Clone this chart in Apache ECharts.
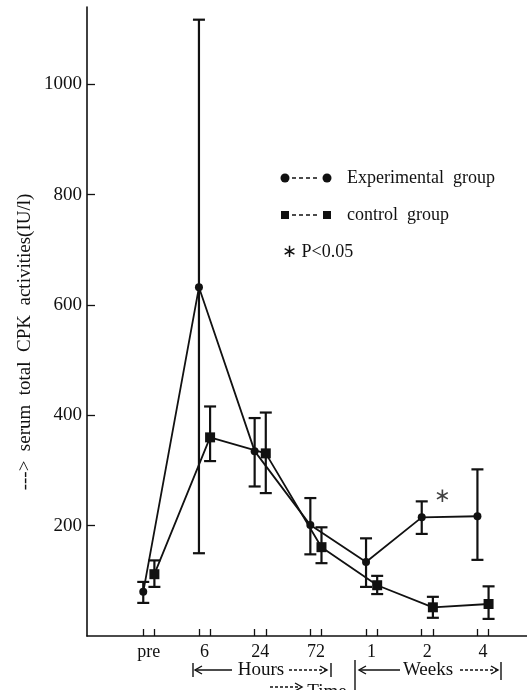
<!DOCTYPE html>
<html>
<head>
<meta charset="utf-8">
<script src="https://cdn.jsdelivr.net/npm/echarts@6/dist/echarts.min.js"></script>
<style>
  html, body { margin: 0; padding: 0; background: #fff; }
  #chart { width: 527px; height: 690px; }
</style>
</head>
<body>
<div id="chart"></div>
<script>
// Time points (hours, then weeks)
const timeLabels = ['pre', '6', '24', '72', '1', '2', '4'];

// Experimental group: mean and error bar ends
const expMean = [80, 632, 335, 201, 134, 215, 217];
const expUpper = [98, 1117, 395, 250, 177, 244, 302];
const expLower = [60, 150, 271, 148, 89, 185, 138];

// Control group: mean and error bar ends
const ctrlMean = [112, 360, 331, 161, 92, 52, 58];
const ctrlUpper = [137, 416, 405, 197, 109, 71, 90];
const ctrlLower = [89, 317, 259, 132, 76, 33, 31];

// significance marker (P<0.05) between 2 and 4 weeks
const sigMark = [5.28, 252];

const yTicks = [200, 400, 600, 800, 1000];

const FONT = 'Liberation Serif';
const INK = '#111';
const offset = 0.1; // exp left of each time point, control right

const expPts = timeLabels.map((_, i) => [i - offset, expMean[i]]);
const ctrlPts = timeLabels.map((_, i) => [i + offset, ctrlMean[i]]);
const expErr = timeLabels.map((_, i) => [i - offset, expLower[i], expUpper[i]]);
const ctrlErr = timeLabels.map((_, i) => [i + offset, ctrlLower[i], ctrlUpper[i]]);

const tickPairs = [];
timeLabels.forEach((_, i) => tickPairs.push(i - offset, i + offset));

function renderErrorBar(params, api) {
  const x = api.value(0);
  const lo = api.coord([x, api.value(1)]);
  const hi = api.coord([x, api.value(2)]);
  const half = 6;
  const style = { stroke: INK, lineWidth: 2.2 };
  return {
    type: 'group',
    children: [
      { type: 'line', shape: { x1: hi[0], y1: hi[1], x2: lo[0], y2: lo[1] }, style },
      { type: 'line', shape: { x1: hi[0] - half, y1: hi[1], x2: hi[0] + half, y2: hi[1] }, style },
      { type: 'line', shape: { x1: lo[0] - half, y1: lo[1], x2: lo[0] + half, y2: lo[1] }, style },
    ],
  };
}

// small helpers for the hand drawn legend / time brackets
function line(x1, y1, x2, y2, dash) {
  return {
    type: 'line',
    shape: { x1, y1, x2, y2 },
    style: { stroke: INK, lineWidth: 1.4, lineDash: dash || null },
  };
}
function arrowHead(x, y, dir) {
  return {
    type: 'polyline',
    shape: { points: [[x - 7 * dir, y - 4], [x, y], [x - 7 * dir, y + 4]] },
    style: { stroke: INK, lineWidth: 1.4, fill: null },
  };
}
function label(text, x, y, size, align) {
  return {
    type: 'text',
    x, y,
    style: {
      text, fill: INK, font: `${size}px "${FONT}"`,
      textAlign: align || 'left', textVerticalAlign: 'middle',
    },
  };
}

const chart = echarts.init(document.getElementById('chart'));

const option = {
  animation: false,
  backgroundColor: '#fff',
  grid: { left: 87, right: 0, top: 7, bottom: 54 },
  xAxis: {
    type: 'value',
    min: -1.11,
    max: 6.79,
    splitLine: { show: false },
    axisLine: { onZero: false, lineStyle: { color: INK, width: 1.6 } },
    axisTick: {
      inside: true,
      length: 7,
      customValues: tickPairs,
      lineStyle: { color: INK, width: 1.3 },
    },
    axisLabel: {
      customValues: timeLabels.map((_, i) => i),
      formatter: (v) => timeLabels[Math.round(v)],
      fontFamily: FONT,
      fontSize: 18,
      color: INK,
      margin: 7,
    },
  },
  yAxis: {
    type: 'value',
    min: 0,
    max: 1140,
    splitLine: { show: false },
    axisLine: { show: true, onZero: false, lineStyle: { color: INK, width: 1.6 } },
    axisTick: {
      inside: true,
      length: 8,
      customValues: yTicks,
      lineStyle: { color: INK, width: 1.3 },
    },
    axisLabel: {
      customValues: yTicks,
      formatter: (v) => String(v),
      fontFamily: FONT,
      fontSize: 19,
      color: INK,
      margin: 5,
    },
  },
  graphic: [
    // y axis title
    {
      type: 'text',
      x: 25, y: 342,
      rotation: Math.PI / 2,
      style: {
        text: '--->  serum  total  CPK  activities(IU/l)',
        fill: INK, font: `19px "${FONT}"`,
        textAlign: 'center', textVerticalAlign: 'middle',
      },
    },
    // legend
    { type: 'circle', shape: { cx: 285, cy: 178, r: 4.5 }, style: { fill: INK } },
    line(292, 178, 320, 178, [4, 3]),
    { type: 'circle', shape: { cx: 327, cy: 178, r: 4.5 }, style: { fill: INK } },
    label('Experimental  group', 347, 178, 18),
    { type: 'rect', shape: { x: 281, y: 211, width: 8, height: 8 }, style: { fill: INK } },
    line(292, 215, 320, 215, [4, 3]),
    { type: 'rect', shape: { x: 323, y: 211, width: 8, height: 8 }, style: { fill: INK } },
    label('control  group', 347, 215, 18),
    label('\u2217 P<0.05', 282, 252, 18),
    // Hours bracket
    line(193, 663, 193, 677),
    line(195, 670, 232, 670),
    arrowHead(195, 670, -1),
    label('Hours', 261, 670, 19, 'center'),
    line(289, 670, 327, 670, [3, 2]),
    arrowHead(327, 670, 1),
    line(331, 663, 331, 677),
    // Weeks bracket
    line(355, 660, 355, 690),
    line(359, 670, 400, 670),
    arrowHead(359, 670, -1),
    label('Weeks', 428, 670, 19, 'center'),
    line(460, 670, 498, 670, [3, 2]),
    arrowHead(498, 670, 1),
    line(501, 662, 501, 680),
    // Time
    line(270, 687, 300, 687, [3, 2]),
    arrowHead(302, 687, 1),
    label('Time', 327, 692, 19, 'center'),
  ],
  series: [
    {
      name: 'Experimental group',
      type: 'line',
      data: expPts,
      symbol: 'circle',
      symbolSize: 8,
      itemStyle: { color: INK },
      lineStyle: { color: INK, width: 1.8 },
      z: 3,
    },
    {
      name: 'control group',
      type: 'line',
      data: ctrlPts,
      symbol: 'rect',
      symbolSize: 10,
      itemStyle: { color: INK },
      lineStyle: { color: INK, width: 1.8 },
      z: 3,
    },
    {
      type: 'custom',
      renderItem: renderErrorBar,
      data: expErr,
      encode: { x: 0, y: [1, 2] },
      z: 2,
    },
    {
      type: 'custom',
      renderItem: renderErrorBar,
      data: ctrlErr,
      encode: { x: 0, y: [1, 2] },
      z: 2,
    },
    {
      type: 'scatter',
      data: [sigMark],
      symbolSize: 0,
      label: {
        show: true,
        position: 'inside',
        formatter: '\u2217',
        fontFamily: FONT,
        fontSize: 20,
        color: INK,
      },
    },
  ],
};

chart.setOption(option);
</script>
</body>
</html>
